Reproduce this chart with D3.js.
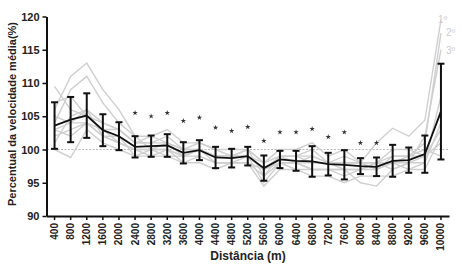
<!DOCTYPE html>
<html>
<head>
<meta charset="utf-8">
<script src="https://cdn.jsdelivr.net/npm/d3@7"></script>
<style>
body { margin: 0; background: #fff; }
text { font-family: "Liberation Sans", Arial, sans-serif; }
</style>
</head>
<body>
<script>
var w = 463;
var h = 265;

// distancias (m)
var distancias = [400, 800, 1200, 1600, 2000, 2400, 2800, 3200, 3600, 4000, 4400, 4800, 5200,
                  5600, 6000, 6400, 6800, 7200, 7600, 8000, 8400, 8800, 9200, 9600, 10000];

// media e desvio padrao (%)
var media = [103.6, 104.5, 105.1, 102.9, 102.0, 100.4, 100.5, 100.6, 99.5, 99.9, 98.8, 98.7, 99.0,
             97.2, 98.5, 98.3, 98.2, 97.8, 97.7, 97.5, 97.4, 98.3, 98.4, 99.3, 105.7];
var dp = [3.5, 3.4, 3.35, 2.4, 2.1, 1.6, 1.6, 1.7, 1.6, 1.5, 1.6, 1.4, 1.4,
          1.9, 1.3, 1.5, 2.3, 1.7, 2.2, 1.2, 1.4, 2.4, 1.9, 2.8, 7.2];

// posicao dos asteriscos (null = sem)
var asterisco = [null, null, null, null, null, 105.5, 105.0, 105.5, 104.3, 104.8, 103.3, 102.8, 103.4,
                 101.3, 102.6, 102.6, 103.1, 101.9, 102.6, 101.0, 101.0, null, null, null, null];

// sujeitos individuais
var s1 = [106, 111, 113, 109, 106, 102, 102, 103, 101, 101, 100, 100, 100, 98, 100, 100, 101, 99, 100, 98, 101, 103.2, 102, 104.4, 119.5];
var s2 = [109.5, 106, 105, 104, 103, 101, 101, 102, 100, 100, 99, 99, 100, 96, 99, 99, 100, 98, 98, 98, 97, 99, 99, 101, 117.5];
var s3 = [104, 109, 111, 107, 104, 102, 100, 101, 99, 100, 99, 99, 99, 97, 98, 98, 99, 98, 97, 97, 98, 98, 98, 102, 115];
var s4 = [102, 103, 104, 102, 101, 100, 99, 100, 99, 99, 98, 98, 99, 95, 98, 98, 97, 97, 96, 97, 97, 98, 97, 98, 108];
var s5 = [100, 98.8, 103, 101, 100, 99, 99, 99, 98, 98, 97, 98, 98, 94.5, 97, 97, 96, 96, 95, 96, 96, 96, 97, 97, 102];
var s6 = [105, 104, 106, 104, 103, 101, 101, 101, 100, 101, 100, 99, 100, 98, 99, 99, 99, 98, 99, 98, 98, 100, 100, 99, 106];
var s7 = [103, 102, 104, 102, 101, 100, 100, 99, 99, 100, 98, 98, 98, 96, 98, 97, 97, 97, 97, 95, 94.5, 97, 98, 98, 104];
var s8 = [107, 108, 105, 103, 103, 101, 102, 101, 100, 100, 99, 99, 99, 97, 99, 99, 98, 98, 98, 98, 98, 98, 99, 99, 101];
var s9 = [101, 105, 106, 102, 102, 99, 100, 100, 98, 99, 98, 98, 98, 97, 98, 98, 97, 97, 97, 97, 98, 97, 98, 99, 103];
var s10 = [103, 104, 104, 103, 101, 100, 100, 100, 99, 100, 99, 99, 99, 98, 99, 98, 98, 98, 98, 98, 98, 99, 99, 100, 99];
var sujeitos = [s1, s2, s3, s4, s5, s6, s7, s8, s9, s10];

var rotulos = ["1º", "2º", "3º"];
var rotuloY = [119.6, 117.6, 114.9];

var yTicks = [90, 95, 100, 105, 110, 115, 120];

var svg = d3.select("body").append("svg")
    .attr("width", w)
    .attr("height", h);

var xScale = d3.scaleBand()
    .domain(distancias)
    .range([46.5, 449])
    .padding(0);

var yScale = d3.scaleLinear()
    .domain([90, 120])
    .range([216, 16.5]);

function cx(i) {
    return xScale(distancias[i]) + xScale.bandwidth() / 2;
}

// linha de referencia 100%
svg.append("line")
    .attr("x1", 47).attr("x2", 448)
    .attr("y1", yScale(100)).attr("y2", yScale(100))
    .attr("stroke", "#bbb")
    .attr("stroke-width", 1)
    .attr("stroke-dasharray", "2,1.5");

// linhas individuais
var linha = d3.line()
    .x(function(d, i) { return cx(i); })
    .y(function(d) { return yScale(d); });

svg.selectAll("path.sujeito")
    .data(sujeitos)
    .enter()
    .append("path")
    .attr("class", "sujeito")
    .attr("d", linha)
    .attr("fill", "none")
    .attr("stroke", "#cfcfcf")
    .attr("stroke-width", 1.4);

svg.selectAll("text.rotulo")
    .data(rotulos)
    .enter()
    .append("text")
    .attr("class", "rotulo")
    .attr("x", function(d, i) { return cx(24) + (i === 0 ? -3 : 5); })
    .attr("y", function(d, i) { return yScale(rotuloY[i]) + 4; })
    .attr("fill", "#cccccc")
    .style("font-size", "10px")
    .text(function(d) { return d; });

// barras de erro
var barras = svg.selectAll("g.erro")
    .data(media)
    .enter()
    .append("g")
    .attr("class", "erro");

barras.append("line")
    .attr("x1", function(d, i) { return cx(i); })
    .attr("x2", function(d, i) { return cx(i); })
    .attr("y1", function(d, i) { return yScale(d + dp[i]); })
    .attr("y2", function(d, i) { return yScale(d - dp[i]); })
    .attr("stroke", "#111")
    .attr("stroke-width", 2);

barras.append("line")
    .attr("x1", function(d, i) { return cx(i) - 3.5; })
    .attr("x2", function(d, i) { return cx(i) + 3.5; })
    .attr("y1", function(d, i) { return yScale(d + dp[i]); })
    .attr("y2", function(d, i) { return yScale(d + dp[i]); })
    .attr("stroke", "#111")
    .attr("stroke-width", 2);

barras.append("line")
    .attr("x1", function(d, i) { return cx(i) - 3.5; })
    .attr("x2", function(d, i) { return cx(i) + 3.5; })
    .attr("y1", function(d, i) { return yScale(d - dp[i]); })
    .attr("y2", function(d, i) { return yScale(d - dp[i]); })
    .attr("stroke", "#111")
    .attr("stroke-width", 2);

// linha media
svg.append("path")
    .datum(media)
    .attr("d", linha)
    .attr("fill", "none")
    .attr("stroke", "#111")
    .attr("stroke-width", 1.8);

// asteriscos (estrelas pequenas)
var estrela = d3.symbol().type(d3.symbolStar).size(9);
svg.selectAll("path.ast")
    .data(asterisco.map(function(v, i) { return { v: v, i: i }; })
                   .filter(function(d) { return d.v !== null; }))
    .enter()
    .append("path")
    .attr("class", "ast")
    .attr("d", estrela)
    .attr("transform", function(d) {
        return "translate(" + cx(d.i) + "," + yScale(d.v) + ")";
    })
    .attr("fill", "#333");

// eixos
var yAxis = d3.axisLeft(yScale)
    .tickValues(yTicks)
    .tickSize(4)
    .tickSizeOuter(0);

var gy = svg.append("g")
    .attr("transform", "translate(46.5,0)")
    .call(yAxis);
gy.select(".domain").attr("stroke", "#111").attr("stroke-width", 2);
gy.selectAll(".tick line").attr("stroke", "#111").attr("stroke-width", 1.5);
gy.selectAll(".tick text")
    .attr("fill", "#222")
    .style("font-size", "11px")
    .style("font-weight", "bold")
    .style("font-family", "Liberation Sans, Arial, sans-serif");

var xAxis = d3.axisBottom(xScale)
    .tickSize(4)
    .tickSizeOuter(0);

var gx = svg.append("g")
    .attr("transform", "translate(0,216)")
    .call(xAxis);
gx.select(".domain").attr("stroke", "#111").attr("stroke-width", 2);
gx.selectAll(".tick line").attr("stroke", "#111").attr("stroke-width", 1.5);
gx.selectAll(".tick text")
    .attr("fill", "#222")
    .attr("transform", "rotate(-90)")
    .attr("text-anchor", "end")
    .attr("x", -7)
    .attr("y", 0)
    .attr("dy", "0.35em")
    .style("font-size", "10px")
    .style("font-weight", "bold")
    .style("font-family", "Liberation Sans, Arial, sans-serif");

// titulos
svg.append("text")
    .attr("transform", "translate(16,114) rotate(-90)")
    .attr("text-anchor", "middle")
    .attr("fill", "#222")
    .style("font-size", "11px")
    .style("font-weight", "bold")
    .text("Percentual da velocidade média(%)");

svg.append("text")
    .attr("x", 248)
    .attr("y", 260)
    .attr("text-anchor", "middle")
    .attr("fill", "#222")
    .style("font-size", "12px")
    .style("font-weight", "bold")
    .text("Distância (m)");
</script>
</body>
</html>
